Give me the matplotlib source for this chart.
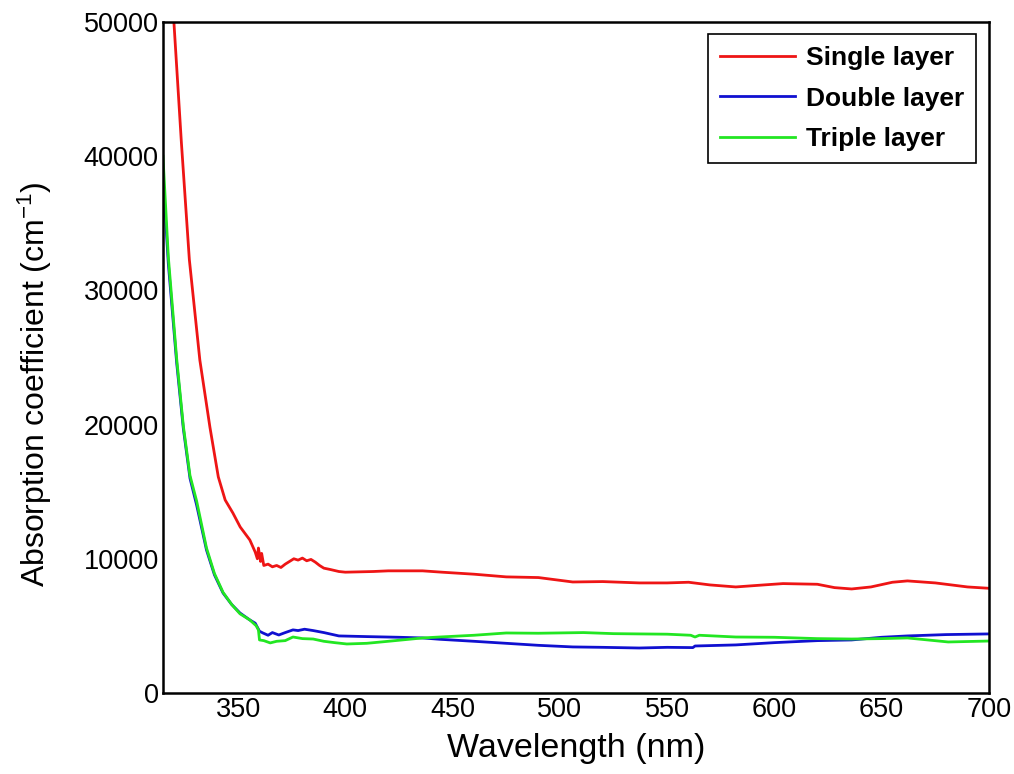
import numpy as np
import matplotlib
matplotlib.use('Agg')
import matplotlib.pyplot as plt

plt.rcParams['font.family'] = ['Liberation Sans', 'DejaVu Sans']
plt.rcParams['mathtext.default'] = 'regular'

# values
wl_single = [319.0, 320.1, 323.6, 327.3, 332.2, 336.9, 340.8, 344.0, 347.6, 351.0, 355.5, 358.0, 359.0,
             359.5, 360.5, 361.0, 362.0, 364.0, 366.0, 368.0, 370.0, 372.0, 374.0, 376.0, 378.0, 380.0,
             382.0, 384.0, 386.0, 388.0, 390.0, 393.0, 397.0, 400.0, 413.0, 420.0, 436.0, 445.0, 460.0,
             475.0, 490.0, 506.0, 520.0, 537.0, 550.0, 560.0, 570.0, 582.0, 595.0, 604.0, 620.0, 628.0,
             636.0, 645.0, 655.0, 662.0, 675.0, 690.0, 700.0]
single = [53500, 50000, 41000, 32300, 24800, 19800, 16100, 14380, 13410, 12370, 11400, 10500, 10000,
          10800, 9800, 10400, 9500, 9600, 9400, 9500, 9350, 9600, 9800, 10000, 9900, 10050,
          9850, 9950, 9750, 9500, 9300, 9200, 9050, 9000, 9050, 9100, 9100, 9000, 8850,
          8650, 8600, 8270, 8300, 8200, 8200, 8250, 8050, 7900, 8050, 8150, 8100, 7850,
          7750, 7900, 8250, 8350, 8200, 7900, 7800]

wl_double = [315.0, 317.5, 321.4, 324.5, 327.6, 330.7, 335.3, 339.0, 343.0, 347.0, 350.9, 355.5, 358.0,
             359.0, 360.0, 361.6, 364.0, 366.0, 369.0, 372.0, 375.6, 378.0, 381.0, 385.0, 390.0, 397.0,
             410.0, 425.0, 436.0, 444.0, 460.0, 475.0, 490.0, 506.0, 520.0, 537.0, 550.0, 562.0, 563.0,
             582.0, 600.0, 620.0, 636.0, 650.0, 662.0, 680.0, 700.0]
double = [38500, 32000, 24600, 19700, 16000, 14000, 10650, 8800, 7450, 6600, 5960, 5440, 5200,
          4900, 4600, 4470, 4300, 4500, 4320, 4500, 4700, 4650, 4750, 4650, 4500, 4250,
          4200, 4150, 4100, 4000, 3850, 3700, 3550, 3430, 3400, 3350, 3400, 3380, 3500,
          3580, 3750, 3900, 3950, 4150, 4250, 4350, 4400]

wl_triple = [315.0, 317.5, 321.4, 324.5, 327.6, 330.7, 335.3, 339.0, 343.0, 347.0, 350.9, 355.5, 358.5,
             359.5, 360.0, 362.0, 365.0, 368.0, 372.0, 375.6, 380.0, 385.0, 390.0, 395.0, 400.7, 410.0,
             420.0, 436.0, 444.0, 460.0, 475.0, 490.0, 511.0, 525.0, 537.0, 550.0, 561.0, 563.0, 565.0,
             582.0, 600.0, 620.0, 636.0, 650.0, 662.0, 681.0, 700.0]
triple = [40000, 32500, 24900, 19900, 16200, 14300, 10800, 8900, 7500, 6600, 5900, 5440, 5000,
          4700, 3950, 3900, 3730, 3850, 3900, 4170, 4050, 4020, 3850, 3750, 3650, 3700,
          3850, 4100, 4170, 4300, 4470, 4450, 4500, 4420, 4400, 4380, 4300, 4170, 4300,
          4170, 4150, 4050, 4020, 4050, 4100, 3800, 3870]

x_ticks = [350, 400, 450, 500, 550, 600, 650, 700]
y_ticks = [0, 10000, 20000, 30000, 40000, 50000]

fig = plt.figure(figsize=(10.14, 7.74), dpi=100)
ax = fig.add_axes([0.1607, 0.1047, 0.8146, 0.8669])

ax.plot(wl_single, single, color='#ee1515', lw=2.0, label='Single layer')
ax.plot(wl_double, double, color='#1010d0', lw=2.0, label='Double layer')
ax.plot(wl_triple, triple, color='#22e622', lw=2.0, label='Triple layer')

ax.set_xlim(315, 700)
ax.set_ylim(0, 50000)
ax.set_xticks(x_ticks)
ax.set_yticks(y_ticks)
ax.tick_params(length=0, labelsize=19.5, pad=3)
for s in ax.spines.values():
    s.set_linewidth(1.8)

ax.set_xlabel('Wavelength (nm)', fontsize=24.5)
ax.set_ylabel('Absorption coefficient (cm$^{-1}$)', fontsize=23)
ax.xaxis.set_label_coords(0.5, -0.059)
ax.yaxis.set_label_coords(-0.1315, 0.46)

leg = ax.legend(loc='upper right', bbox_to_anchor=(0.9843, 0.982), fancybox=False,
                edgecolor='black', framealpha=1, handlelength=2.84, handletextpad=0.4,
                labelspacing=0.63, borderpad=0.45, borderaxespad=0,
                prop={'weight': 'bold', 'size': 19})
leg.get_frame().set_linewidth(1.2)

fig.savefig('out.png', dpi=100)
